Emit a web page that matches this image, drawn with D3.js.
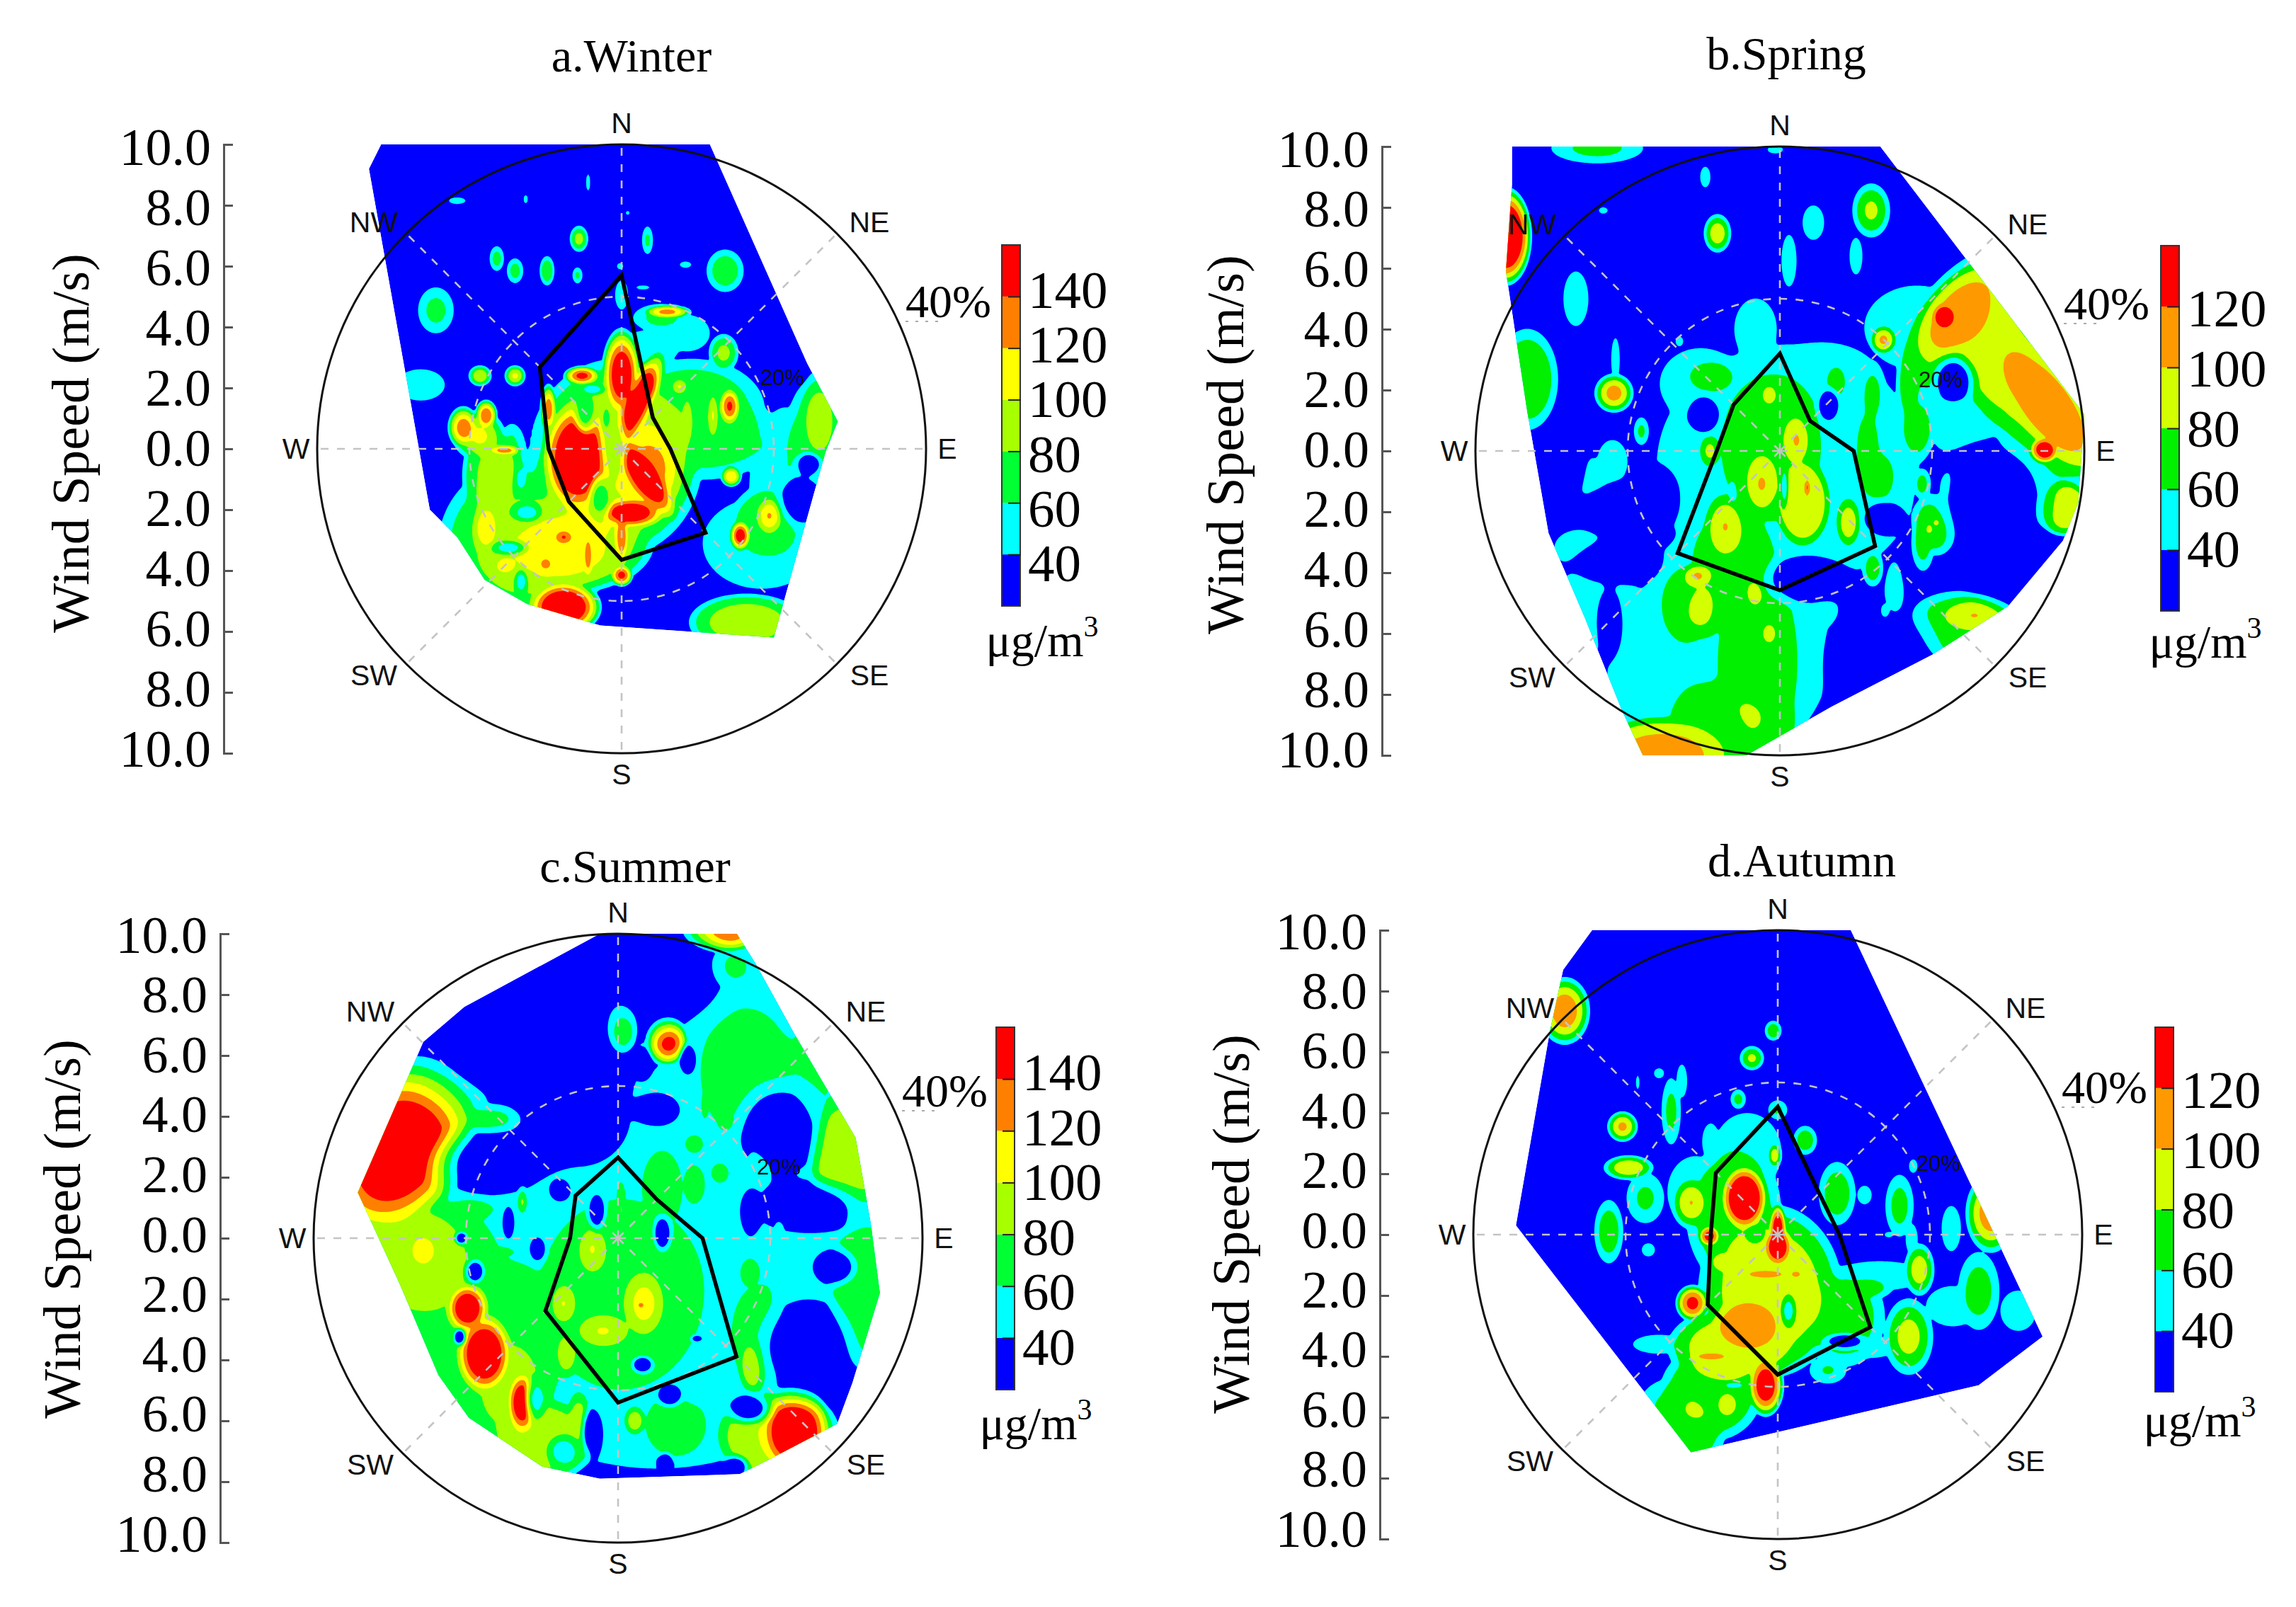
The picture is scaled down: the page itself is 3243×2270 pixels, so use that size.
<!DOCTYPE html>
<html>
<head>
<meta charset="utf-8">
<script src="https://cdn.jsdelivr.net/npm/d3@7"></script>
<style>
    html, body { margin: 0; padding: 0; background: #fff; }
    svg { display: block; }
    .serif { font-family: "Liberation Serif", serif; fill: #000; }
    .sans { font-family: "Liberation Sans", sans-serif; fill: #111; }
</style>
</head>
<body>
<svg id="chart" width="3243" height="2270"></svg>
<script>
const DIRECTIONS = ["N", "NE", "E", "SE", "S", "SW", "W", "NW"];
const SPEED_TICKS = [10, 8, 6, 4, 2, 0, -2, -4, -6, -8, -10];

// frequency (%) of wind per direction, N first, clockwise
const roseWinter = [22.8, 5.8, 6.4, 15.6, 14.6, 9.8, 9.6, 15.2];
const roseSpring = [12.8, 5.6, 9.7, 17.7, 18.3, 19, 8.3, 8.6];
const roseSummer = [10.6, 7.2, 11.1, 22, 21.6, 13.5, 6.3, 7.9];
const roseAutumn = [16.8, 7.7, 8.1, 17.2, 18.4, 13, 8.8, 11.5];

// outline of the sampled area, [east m/s, north m/s]
const hullWinter = [[-7.9,10],[2.9,10],[6.1,2.8],[7.1,.9],[6.7,-.1],[5,-6.2],[-.7,-5.8],[-3.1,-5.1],[-4.5,-4.3],[-5.4,-2.9],[-6.3,-2],[-8.3,9.2]];
const hullSpring = [[-8.8,10],[3.3,10],[6.2,6.2],[10,1.2],[9.8,-1.7],[9.3,-2.95],[7.5,-5.1],[5,-6.7],[1.7,-8.4],[-1.1,-10],[-4.5,-10],[-5.2,-8.5],[-6.4,-5.5],[-7.6,-2.7],[-8.3,1.3],[-9,5.9],[-8.8,8.75]];
const hullSummer = [[-.6,10],[3.9,10],[4.5,9.05],[5.8,6.7],[7.8,3.3],[8.3,.5],[8.6,-1.8],[7.7,-4.75],[7.2,-6.1],[4.9,-7.3],[4,-7.75],[-.6,-7.9],[-2.5,-7.5],[-4.9,-5.9],[-5.9,-4.5],[-7.15,-1.55],[-8.55,1.5],[-7.2,4.6],[-6.4,6.45],[-5.05,7.6]];
const hullAutumn = [[-6.1,10],[2.4,10],[8.7,-3.35],[6.6,-4.95],[-2.85,-7.15],[-8.6,.3],[-7.5,6.6],[-7.05,8.7]];

// concentration highs: [east, north, peak, radius east, radius north, tilt deg]
const spotsWinter = [
    [-.2,-.3,100,3,3.4],[-1.7,-3.1,98,2.9,1.7],[0,2.45,170,.7,1.6],[.5,1.45,170,2.1,.6,65],[-1.45,-.3,190,1.3,2.1],
    [.75,-.9,175,1.9,.65,-56],[.9,-.7,128,1.4,1.9],[.3,-2.1,170,1.3,.6],[0,-2.9,135,.3,1.1],[-1.3,2.4,150,.65,.35],[-2.4,1.3,135,.3,.9],
    [.85,2.2,130,.5,.8],[3.55,1.4,145,.4,.7],[2.15,.95,95,.22,.95],[3,1.1,98,.22,.95],[1.9,2.05,100,.35,.35],
    [2.3,1.3,72,2.6,1.8],[2.65,.45,68,2.8,1.6],[3.35,3.15,88,.55,.7],[1.5,4.5,130,.85,.25],[1.3,4.3,68,1.1,.55],
    [-4.65,2.4,100,.42,.38],[-3.5,2.4,105,.38,.38],[-6.1,4.55,68,.7,.9],[-5.2,.7,135,.55,.75],[-4.45,1.1,140,.4,.55],
    [-3.85,-.05,130,.7,.22],[-4.7,.45,105,.95,.9],[-4.45,-2.6,115,.6,1.1],[-1.9,-2.9,135,.45,.35],[0,-4.15,150,.4,.4],
    [-1.1,-3.5,130,.2,.9],[-2.5,-3.8,110,.55,.55],[-3.85,-3.85,105,.55,.45],[-2.2,-3.6,84,2.8,1.3],[-1.9,-5.2,190,1.3,.95],
    [3.6,-.9,120,.38,.38],[3.9,-2.85,160,.38,.55],[4.85,-2.2,120,.55,.75],[4.7,-2.4,72,1.2,1.3],[6.5,.95,95,.8,1.8],
    [6.4,.4,68,1.1,2.1],[5.5,-.2,55,1.1,1.5],[3.6,0,55,2.4,.7],[5.4,-1.4,55,1.4,3.2],[4.6,-3.1,58,2.2,1.7],[4.1,-5.7,88,2,1],
    [-1.4,6.9,90,.34,.48],[.85,6.85,65,.22,.55],[-4.1,6.25,70,.28,.48],[-3.5,5.85,70,.32,.48],[-2.45,5.85,80,.28,.55],
    [-1.45,5.7,65,.2,.32],[3.4,5.85,78,.7,.8],[-1.1,8.75,50,.1,.4],[-3.15,8.2,50,.1,.2],[-5.4,8.15,50,.4,.16],
    [-.05,6,50,.15,.15],[2.1,6.05,50,.28,.15],[0,5.05,60,.27,.6],[.7,5.3,50,.32,.1],[.2,7.75,48,.1,.1],
    [-6.6,2.1,60,1,.65],[-3.2,-3.2,84,3,3],[-4.3,-.9,82,1,1.9],[-3.6,-.4,78,.6,1.4],[2.15,3.8,55,1,.8],[.9,3.3,55,1.3,.8]
];
const holesWinter = [
    [-.95,1.95,45,.55,.25],[-.7,-1.6,65,.5,.95],[-3.3,-1,45,.25,.5],[-3.7,-3.25,45,.8,.35],[-3.3,-4.35,45,.3,.55],
    [-3.1,-2.1,45,.7,.45],[-1.2,1.2,62,.5,1],[-.5,1,72,.25,.7],[-3,.35,40,.6,1.1],[6.15,-.5,10,.6,.55],[5.9,-1.65,10,1,1.2],
    [-.25,.2,88,.6,1.5]
];

const spotsSpring = [
    [.3,-.5,56,5,4.6],[-1.55,-6.2,56,3.8,4.6],[-.7,-7.1,70,1.7,4.6],[-1.55,-9.1,74,2.6,2],[-3.95,-10.1,106,2.6,1.5],
    [-3.95,-7.6,55,2,3],[-5.9,-5,52,1.6,1.9],[-6.6,-3.2,50,1.2,.9],[5.4,4.4,150,.5,.55],[5.9,4.5,102,2.2,1.2,50],
    [6.2,4.2,84,3.2,1.8,50],[8.8,1.5,106,3,1.2,-53],[8.2,1.9,84,4,1.9,-53],[8.65,0,165,.55,.5],[7.1,3.2,78,1.6,2.2],[9.3,-1.85,96,1,1],[8.1,-.85,68,1.6,2.1],
    [4.5,4.05,55,2,1.6],[6.2,1.7,55,1.6,3],[4.25,2.2,78,.5,1.7],[4.5,.75,78,.7,1.3],[5.15,-2.35,97,.9,1.2],[5.15,-2.35,118,.14,.14],
    [5.7,-1.35,85,.7,1.2],[4.7,-1.1,78,.35,.6],[4.7,-3,72,.45,1.1],[3.4,3.65,105,.5,.55],[3.05,1.85,68,.5,1.3],
    [1.85,2.3,68,.5,.8],[2.9,0,68,.65,2.3],[3.3,-.85,70,.8,1.3],[-.3,.15,76,2,3],[.55,.35,98,.6,1.1],
    [-.6,-1.1,98,.75,1.3],[.75,-1.7,98,1,1.6],[.9,-1.2,115,.1,.35],[-1.8,-2.45,98,.85,1.3],[-.35,1.85,95,.35,.45],
    [2.25,-2.35,95,.5,1],[-2.7,-4.1,100,.65,.5],[-.8,-4.7,95,.35,.55],[-2.45,-5.3,78,.8,1.2],[-.35,-6,92,.35,.5],
    [-2.3,0,85,.45,.7],[-2.25,2.45,72,1.2,.8],[-1.55,-3.7,76,1.7,2.2],[-3,-5,78,1.1,1.5],[3.05,-3.85,75,.4,.7],
    [-5.45,1.9,110,.7,.7],[-4.55,.65,65,.3,.55],[-5.4,3,52,.2,1],[-8.3,2.35,72,1.1,1.8],[-6.35,-.85,52,1.2,.9],
    [-5.5,-.35,52,.7,1],[6.4,-5.4,98,1.6,.8],[5.9,-5.8,72,2,1.3],[6.9,-3.4,52,.7,2],[3.75,-5,55,.45,1.8],
    [3.45,-5.35,68,.25,.45],[1.45,-5.3,52,.7,.7],[-6,9.95,68,1.8,.6],[-.15,9.9,48,.4,.2],[-9,7.05,175,.9,1.7],
    [-2.05,7.15,95,.5,.7],[3,7.9,85,.7,1],[1.1,7.5,52,.5,.8],[2.5,6.4,52,.3,.85],[.3,6.25,52,.35,1.2],
    [-2.45,9,50,.25,.5],[-6.7,5,55,.55,1.2],[-5.8,7.9,46,.25,.18],[-3.3,3.6,48,.2,.25],[-.8,4,58,.9,1.3],
    [1.5,2.2,52,2.2,1.6],[-2.6,2.2,52,1.6,1.4]
];
const holesSpring = [
    [-2.5,1.2,10,.75,.85],[3.4,-2.2,10,.9,.75],[-3.95,-1.45,10,.9,1.2],[5.7,2.35,10,.95,1.1],[1.6,1.5,10,.5,.75],
    [.15,-1.2,48,.2,1],[.85,-4.2,10,1.9,1.1],[-5.4,-3.7,10,1.9,1],[6.9,-1.5,10,2.8,2.8],[-1.55,-1.35,48,.18,.5],
    [-5,-1.9,10,1.9,1.1],[-7,-.5,10,.9,1.5],[8,-4,10,2.3,1.6],[3.4,-6.8,10,2.5,2.4],[-5.6,-5.6,10,.6,1.6]
];

const spotsSummer = [
    [1.3,-.9,60,8.5,7.5],[.1,7.2,55,1.8,2.4],[4.2,6.2,55,3.4,4.3],[6.6,5.5,60,1.7,3],[-7.1,3,185,3.6,2.4,59],
    [-6.6,-.7,96,2.1,2.1],[-6,-1.2,70,2.8,3.5],[-6.4,-.4,108,.5,.6],[-4.6,-3.6,72,3.6,3.8],[-2.5,-6.6,94,1.9,1.5],[-3.5,-5.1,80,1.6,2.4],[-4.2,3.9,95,1.4,.7],
    [-6.1,4.6,88,2.2,1],[-4.95,-2.3,175,.8,.95],[-4.4,-3.8,185,1.05,1.5],[-3.15,-5.4,170,.6,1.2],[5.8,-6.35,190,1.3,1.6],
    [5.2,-6.5,100,2.2,1.7],[.1,7.1,155,.65,1.15],[1.6,6.5,175,.75,.9],[4.45,-4.15,105,.6,1.2],[0,-2,74,3,3.6],
    [.85,-2.15,108,.9,1.4],[.75,-2.2,135,.15,.12],[-.85,-.35,98,.7,1.1],[-1.8,-2.15,98,.6,.95],[-.5,-3.05,98,1.2,.75],[-1.7,-3.8,98,.5,.95],
    [-1.3,-5.9,92,.5,1.1],[.55,-6,95,.45,.6],[4.7,-3.3,76,1.1,2],[1.9,-6.2,72,1.3,1.3],[4.2,5.5,72,1.9,2.6],
    [7.5,2.6,95,1.4,2.4],[8,-1.7,78,1.3,2.8],[3.6,8.9,78,1,.8],[3.4,10,145,1.5,.7],[4.7,2.65,95,.55,1.05],
    [5.3,.4,90,.22,.45],[-1.3,6.1,72,.65,.7],[1.45,1.75,78,.8,1.5],[2.5,1.8,72,.45,.8],[.1,1,78,.18,1.05],
    [3.35,2.15,68,.4,.45],[2.5,3.1,68,.45,.45],[3.6,3.8,68,.45,.45],[2.85,4.35,75,.16,.6],[4.35,-1.15,70,.4,.6],
    [-4.7,1,70,1.05,.6],[-3.15,1.3,88,.22,.6],[-3.85,-.45,72,.6,.22]
];
const holesSummer = [
    [-3,7.2,10,6,4.6,10],[-4,2.5,10,2.8,1.6],[-1.3,3.85,10,2.6,2.4],[1.3,8.7,10,3.2,2.5],[1.3,4.2,10,1.1,.8],
    [5.2,3.5,10,1.9,2.3],[6.15,1,10,2.8,1.3],[7.1,-.95,10,1.1,.9],[6.15,-3.55,10,2.3,2.4],[.8,5.7,10,.4,.65],
    [2.3,5.85,10,.4,.7],[1.3,7.8,10,.5,.4],[-.7,.9,10,.4,.85],[-1.9,1.55,10,.55,.55],[-3.6,.5,10,.3,.8],
    [-2.65,-.35,10,.4,.6],[1.45,.15,10,.4,.8],[4.35,.8,10,.5,1.2],[-4.7,-1.1,10,.45,.55],[-5.15,0,10,.3,.3],
    [-5.2,-3.25,10,.3,.4],[.8,-4.15,10,.5,.4],[1.7,-5.15,10,.6,.55],[-.85,-6.35,10,.5,1.1],[1.55,-7.35,10,.35,.4],
    [3.85,-7.5,10,.6,.5],[4.3,-5.6,10,1,.7],[2.6,-3.3,10,.25,.15],[-1.8,-7,45,.8,.8],[2.6,-4.8,45,1,.9],[-2.7,-5.3,50,.5,1]
];

const spotsAutumn = [
    [-.25,-1.85,90,2.5,3],[-1.45,-3.7,90,2.3,1.4],[-2.2,-5.2,76,1.8,1.7],[-1.45,.7,72,1.7,2.6],[2.15,-2.7,68,1.5,1.8],
    [-1.1,1.2,170,.85,1.2],[0,.2,145,.32,.9],[0,-.4,150,.55,.75],[-2.25,-.05,135,.4,.4],[-2.8,-2.25,130,.6,.65],
    [-.4,-4.95,145,.65,1.1],[-1,-2.95,106,1.3,1],[-.4,-1.3,110,1,.2],[-2.2,-4,110,.8,.18],[.6,-1.3,105,.28,.18],
    [-2.85,1.05,100,.7,.95],[-4.35,1.2,65,.75,1],[-1.85,-.9,95,.5,.42],[4.65,-1.15,95,.55,.95],[4.3,-3.35,90,.9,1.4],
    [6.6,-1.85,72,.8,1.5],[5.75,-2.35,54,1.2,.9],[7.9,-2.5,54,.8,.9],[7,.7,115,.9,1.4],[5.7,.2,52,.45,1.05],
    [4,.95,70,.55,1.2],[4.4,-.15,52,.28,.7],[2.85,1.3,50,.35,.45],[1.95,1.35,76,.7,1.2],[3.65,0,48,.22,.14],
    [4.45,2.25,48,.22,.35],[.9,3.1,76,.45,.55],[-.1,2.6,95,.25,.45],[0,4.1,65,.38,.38],[-2.2,3.05,52,.4,.85],
    [-3.5,4.05,68,.38,1.3],[-3.15,5.05,50,.26,.8],[-5.1,3.55,105,.55,.55],[-4.9,2.2,100,.9,.45],[-3.9,5.3,48,.26,.26],
    [-4.6,5,46,.1,.4],[-1.3,4.45,68,.3,.38],[-.85,5.8,85,.45,.45],[-.15,6.7,76,.32,.38],[-7,7.35,118,.9,1.2],
    [-5.55,.1,76,.55,1.2],[-4.25,-.5,50,.32,.32],[-1,2.7,55,1.3,1.5],[3.35,-1.35,54,2.1,.65],[3,-1.75,72,.9,.45],
    [-3.9,-3.6,58,1.1,.4],[-3.4,-5.7,62,1.3,1.1],[-1.65,-5.6,95,.45,.55],[-2.9,-6.4,70,1.3,1.4],[3,-3.7,52,1.3,.5],
    [1.65,-4.45,62,.75,.55],[-2.7,1.4,52,1.1,1.4]
];
const holesAutumn = [
    [-.75,0,62,.42,.42],[.35,-2.5,48,.35,.75],[-1.45,-4.95,48,.5,.16],[2.2,-3.5,12,.9,.35]
];

const SEVEN_BANDS = {
    thresholds: [40, 60, 80, 100, 120, 140],
    colours: ["#0000ff", "#00ffff", "#00ff33", "#a8ff00", "#ffff00", "#ff8000", "#ff0000"],
    domain: [20, 160],
    labelShift: [[40, 140], [12, -10]]
};
const SIX_BANDS = {
    thresholds: [40, 60, 80, 100, 120],
    colours: ["#0000ff", "#00ffff", "#00f000", "#d4ff00", "#ff9900", "#ff0000"],
    domain: [20, 140],
    labelShift: [[40, 120], [-2, 2]]
};

const svg = d3.select("#chart");
const R = 430;
const BASE = 28;
const GRID_LIMIT = 11;
const GRID_SIZE = 441;

// ----- PRIVATE FUNCTIONS ----------------------------------------------
function _spotDistance( u, v, spot )
{
    const [su, sv, , rx, ry, tilt] = spot;
    let du = u - su, dv = v - sv;
    if( tilt )
    {
        const t = tilt * Math.PI / 180;
        const a = du * Math.cos(t) + dv * Math.sin(t);
        dv = -du * Math.sin(t) + dv * Math.cos(t);
        du = a;
    }
    return (du * du) / (rx * rx) + (dv * dv) / (ry * ry);
}

function _buildField( spots, holes )
{
    const gridU = d3.scaleLinear([0, GRID_SIZE - 1], [-GRID_LIMIT, GRID_LIMIT]);
    const gridV = d3.scaleLinear([0, GRID_SIZE - 1], [GRID_LIMIT, -GRID_LIMIT]);
    const values = new Float64Array(GRID_SIZE * GRID_SIZE);
    // wide, moderate highs are plateaus with a flat top
    const isFlat = spots.map( s => s[2] <= 125 && Math.min(s[3], s[4]) >= 1 );

    for( let j = 0; j < GRID_SIZE; j++ )
    {
        const v = gridV(j);
        for( let i = 0; i < GRID_SIZE; i++ )
        {
            const u = gridU(i);
            let sum = 0;
            spots.forEach( (s, k) => {
                const d2 = _spotDistance( u, v, s );
                if( d2 < 1 )
                {
                    const w = isFlat[k] ? 1 - d2 * d2 : 1 - d2;
                    sum += Math.pow( (s[2] - BASE) * w, 4 );
                }
            } );
            let f = BASE + Math.sqrt(Math.sqrt(sum));
            // holes pull the value down to what the picture shows
            holes.forEach( h => {
                const d2 = _spotDistance( u, v, h );
                if( d2 < 1 && f > h[2] ) { f += (h[2] - f) * (1 - d2) * (1 - d2); }
            } );
            values[j * GRID_SIZE + i] = f;
        }
    }
    return values;
}

function _drawPanel( p )
{
    const x = d3.scaleLinear([-10, 10], [p.cx - R, p.cx + R]);
    const y = d3.scaleLinear([-10, 10], [p.cy + R, p.cy - R]);
    const g = svg.append("g");
    const clipId = "hull" + p.key;
    const hullLine = d3.line().x(d => x(d[0])).y(d => y(d[1])).curve(d3.curveLinearClosed);

    g.append("clipPath").attr("id", clipId).append("path").attr("d", hullLine(p.hull));

    const bands = p.bands;
    const plot = g.append("g").attr("clip-path", "url(#" + clipId + ")");
    plot.append("path").attr("d", hullLine(p.hull)).attr("fill", bands.colours[0]);

    // contour index space -> m/s -> pixels
    const idxU = d3.scaleLinear([0.5, GRID_SIZE - 0.5], [-GRID_LIMIT, GRID_LIMIT]);
    const idxV = d3.scaleLinear([0.5, GRID_SIZE - 0.5], [GRID_LIMIT, -GRID_LIMIT]);
    const project = d3.geoTransform({
        point: function( a, b ) { this.stream.point( x(idxU(a)), y(idxV(b)) ); }
    });
    const contours = d3.contours()
        .size([GRID_SIZE, GRID_SIZE])
        .thresholds(bands.thresholds)( _buildField( p.spots, p.holes ) );

    plot.selectAll("path.band")
        .data(contours)
        .enter()
            .append("path")
            .attr("class", "band")
            .attr("d", d3.geoPath(project))
            .attr("fill", (d, i) => bands.colours[i + 1]);

    // spokes and 20% ring
    const spokes = g.append("g")
        .attr("transform", "translate(" + p.cx + "," + p.cy + ")")
        .attr("fill", "none").attr("stroke", "#c4c4c4")
        .attr("stroke-width", 2.6).attr("stroke-dasharray", "11 12");
    const rScale = d3.scaleLinear([0, 40], [0, R]);

    spokes.selectAll("line")
        .data(DIRECTIONS)
        .enter()
            .append("line")
            .attr("x2", (d, i) => Math.sin(i * Math.PI / 4) * rScale(40))
            .attr("y2", (d, i) => -Math.cos(i * Math.PI / 4) * rScale(40));
    spokes.append("circle").attr("r", rScale(20));

    // white patch the 40% label sits on, it cuts the outer ring
    g.append("circle")
        .attr("cx", p.cx).attr("cy", p.cy).attr("r", rScale(40))
        .attr("fill", "none").attr("stroke", "#111").attr("stroke-width", 3);
    g.append("rect")
        .attr("x", p.cx + 388).attr("y", p.cy - 236)
        .attr("width", 14).attr("height", 36).attr("fill", "#fff");

    // wind rose
    const rose = d3.lineRadial()
        .angle((d, i) => i * Math.PI / 4)
        .radius(d => rScale(d))
        .curve(d3.curveLinearClosed);
    g.append("path")
        .attr("transform", "translate(" + p.cx + "," + p.cy + ")")
        .attr("d", rose(p.rose))
        .attr("fill", "none").attr("stroke", "#000").attr("stroke-width", 5.5)
        .attr("stroke-linejoin", "miter");

    // compass letters
    g.selectAll("text.compass")
        .data(DIRECTIONS)
        .enter()
            .append("text")
            .attr("class", "sans compass")
            .attr("font-size", 41)
            .attr("text-anchor", "middle")
            .attr("dominant-baseline", "central")
            .attr("x", (d, i) => p.cx + (i % 2 ? Math.sign(Math.sin(i * Math.PI / 4)) * 350 : Math.sin(i * Math.PI / 4) * 460))
            .attr("y", (d, i) => p.cy + (i % 2 ? -Math.sign(Math.cos(i * Math.PI / 4)) * 320 : -Math.cos(i * Math.PI / 4) * 460))
            .text(d => d);

    g.append("text").attr("class", "sans").attr("font-size", 31).attr("text-anchor", "middle")
        .attr("dominant-baseline", "central").attr("fill", "#000")
        .attr("x", p.cx + 227).attr("y", p.cy - 101).text("20%");
    g.append("text").attr("class", "serif").attr("font-size", 66)
        .attr("x", p.cx + 401).attr("y", p.cy - 186).text("40%");
    g.append("line")
        .attr("x1", p.cx + 401).attr("x2", p.cx + 449).attr("y1", p.cy - 180).attr("y2", p.cy - 180)
        .attr("stroke", "#aaa").attr("stroke-width", 2).attr("stroke-dasharray", "4 10");

    // title
    g.append("text").attr("class", "serif").attr("font-size", 66).attr("text-anchor", "middle")
        .attr("x", p.titleX).attr("y", p.titleY).text(p.title);

    // speed axis, folded at zero; the labels sit a little inside the ticks
    const speed = d3.scaleLinear([10, -10], [p.cy - R, p.cy + R]);
    const speedLabel = d3.scaleLinear([10, -10], [p.cy + p.axisTop, p.cy + p.axisBottom]);
    const axisX = p.cx - 562;
    const axis = g.append("g")
        .attr("transform", "translate(" + axisX + ",0)")
        .call( d3.axisLeft(speed)
            .tickValues(SPEED_TICKS)
            .tickSize(-13)
            .tickPadding(18)
            .tickFormat(d => Math.abs(d).toFixed(1)) );
    axis.selectAll("path, line").attr("stroke", "#555").attr("stroke-width", 3);
    axis.selectAll("text")
        .attr("class", "serif").attr("font-size", 74).attr("dy", null)
        .attr("dominant-baseline", "central")
        .attr("y", d => speedLabel(d) - speed(d));

    g.append("text").attr("class", "serif").attr("font-size", 74).attr("text-anchor", "middle")
        .attr("transform", "translate(" + p.labelX + "," + p.labelY + ") rotate(270)")
        .attr("dy", "0.3em")
        .text("Wind Speed (m/s)");

    // colour bar
    const top = p.barTop, bottom = p.barBottom, barX = p.cx + p.barDx, barW = 26;
    const c = d3.scaleLinear(bands.domain, [bottom, top]);
    const edges = [bands.domain[0]].concat(bands.thresholds, bands.domain[1]);
    const shift = d3.scaleLinear(bands.labelShift[0], bands.labelShift[1]);

    g.selectAll("rect.bar")
        .data(bands.colours)
        .enter()
            .append("rect")
            .attr("class", "bar")
            .attr("x", barX).attr("width", barW)
            .attr("y", (d, i) => c(edges[i + 1]))
            .attr("height", (d, i) => c(edges[i]) - c(edges[i + 1]))
            .attr("fill", d => d);
    g.append("rect")
        .attr("x", barX).attr("y", top).attr("width", barW).attr("height", bottom - top)
        .attr("fill", "none").attr("stroke", "#333").attr("stroke-width", 2);

    const cAxis = g.append("g")
        .attr("transform", "translate(" + (barX + barW + 1) + ",0)")
        .call( d3.axisRight(c).tickValues(bands.thresholds).tickSize(-18).tickPadding(10).tickSizeOuter(0) );
    cAxis.select("path").remove();
    cAxis.selectAll("line").attr("stroke", "#222").attr("stroke-width", 2);
    cAxis.selectAll("text")
        .attr("class", "serif").attr("font-size", 75).attr("dy", null)
        .attr("dominant-baseline", "central")
        .attr("y", d => shift(d));

    const unit = g.append("text").attr("class", "serif").attr("font-size", 66).attr("text-anchor", "middle")
        .attr("x", p.unitX).attr("y", p.unitY);
    unit.append("tspan").text("μg/m");
    unit.append("tspan").attr("font-size", 42).attr("dy", -28).text("3");
}

// ***** DRAW *****************************************************************
[
    { key: "a", title: "a.Winter", cx: 878, cy: 634, rose: roseWinter, hull: hullWinter, spots: spotsWinter, holes: holesWinter, bands: SEVEN_BANDS,
      titleX: 892, titleY: 101, labelX: 103, labelY: 626, barDx: 537, barTop: 346, barBottom: 856, unitX: 1472, unitY: 927, axisTop: -427, axisBottom: 423 },
    { key: "b", title: "b.Spring", cx: 2514, cy: 637, rose: roseSpring, hull: hullSpring, spots: spotsSpring, holes: holesSpring, bands: SIX_BANDS,
      titleX: 2523, titleY: 98, labelX: 1734, labelY: 628, barDx: 538, barTop: 347, barBottom: 863, unitX: 3115, unitY: 929, axisTop: -427, axisBottom: 421 },
    { key: "c", title: "c.Summer", cx: 873, cy: 1749, rose: roseSummer, hull: hullSummer, spots: spotsSummer, holes: holesSummer, bands: SEVEN_BANDS,
      titleX: 897, titleY: 1246, labelX: 91, labelY: 1736, barDx: 534, barTop: 1451, barBottom: 1963, unitX: 1463, unitY: 2033, axisTop: -429, axisBottom: 417 },
    { key: "d", title: "d.Autumn", cx: 2511, cy: 1744, rose: roseAutumn, hull: hullAutumn, spots: spotsAutumn, holes: holesAutumn, bands: SIX_BANDS,
      titleX: 2545, titleY: 1238, labelX: 1742, labelY: 1729, barDx: 533, barTop: 1451, barBottom: 1966, unitX: 3107, unitY: 2029, axisTop: -429, axisBottom: 415 }
].forEach( _drawPanel );
</script>
</body>
</html>
